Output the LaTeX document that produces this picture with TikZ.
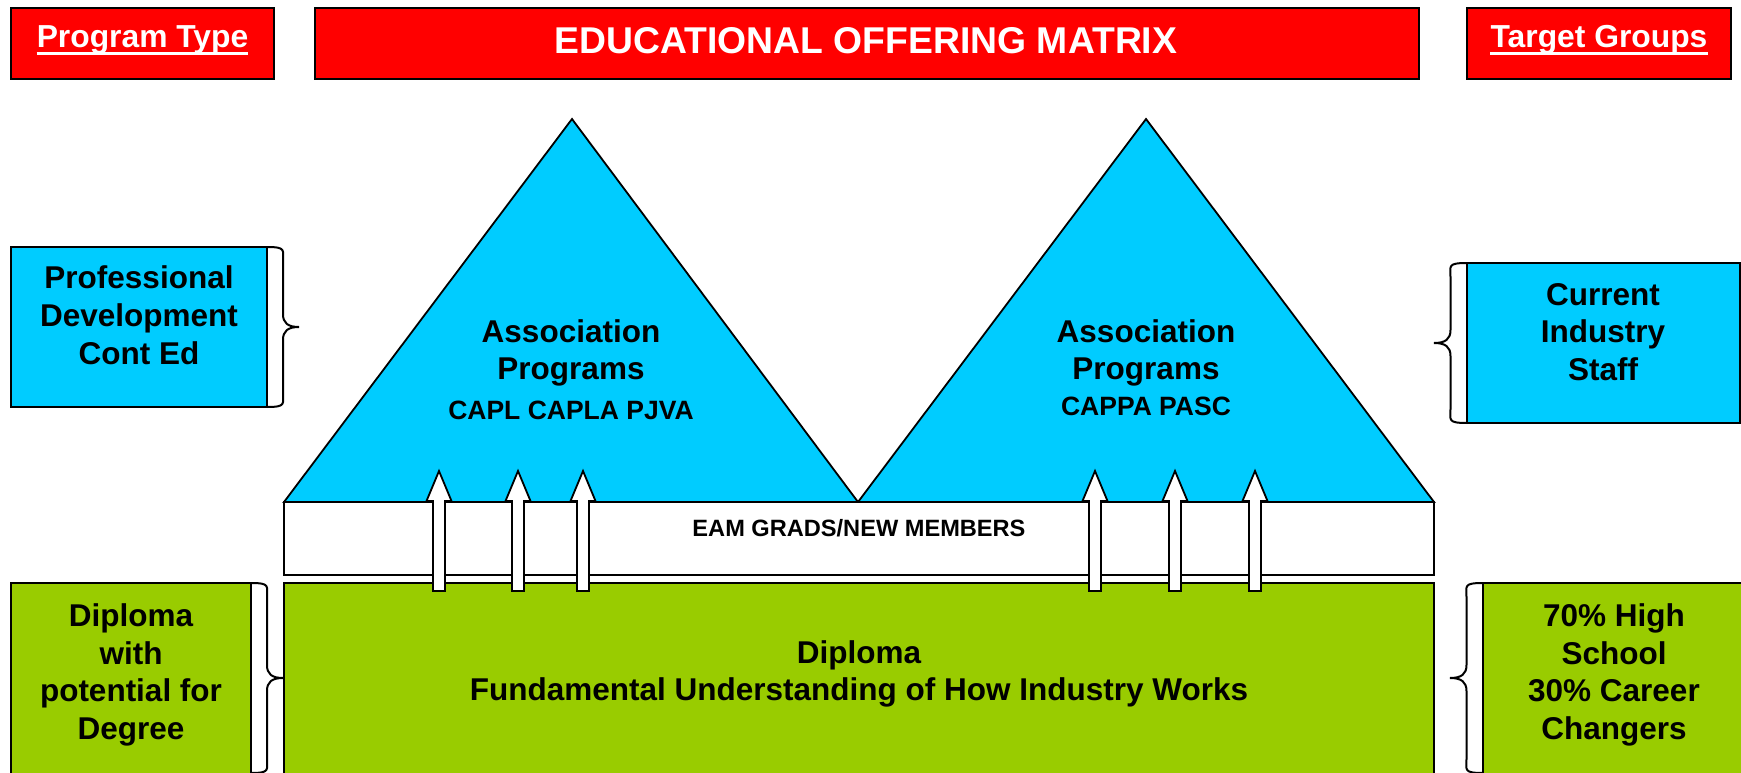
\documentclass[tikz,border=0pt]{standalone}
\usepackage{fontspec}
\setmainfont{Liberation Sans}
\usetikzlibrary{calc}
\definecolor{tred}{HTML}{FF0000}
\definecolor{tcyan}{HTML}{00CCFF}
\definecolor{tgreen}{HTML}{99CC00}
\newcommand\drawbrace[4]{% #1 end x, #2 tip x, #3 top y, #4 bottom y
  \draw[bracestyle] (#1,#3) .. controls ({#1+0.6*(#2-#1)},#3) and ({(#1+#2)/2},{#3+3}) .. ({(#1+#2)/2},{#3+14})
    -- ({(#1+#2)/2},{(#3+#4)/2-13}) .. controls ({(#1+#2)/2},{(#3+#4)/2-4}) and ({#1+0.65*(#2-#1)},{(#3+#4)/2}) .. (#2,{(#3+#4)/2})
    .. controls ({#1+0.65*(#2-#1)},{(#3+#4)/2}) and ({(#1+#2)/2},{(#3+#4)/2+4}) .. ({(#1+#2)/2},{(#3+#4)/2+13})
    -- ({(#1+#2)/2},{#4-14}) .. controls ({(#1+#2)/2},{#4-3}) and ({#1+0.6*(#2-#1)},#4) .. (#1,#4);}
\begin{document}
\begin{tikzpicture}[x=1pt,y=-1pt,
  box/.style={draw=black, line width=2pt, inner sep=0pt, outer sep=0pt},
  bigtxt/.style={font=\bfseries\fontsize{31.5}{37.8}\selectfont, align=center, inner sep=0pt},
  headtxt/.style={font=\bfseries\fontsize{31.8}{38}\selectfont, inner sep=0pt},
  titletxt/.style={font=\bfseries\fontsize{37.3}{44}\selectfont, inner sep=0pt},
  smalltxt/.style={font=\bfseries\fontsize{26.5}{32}\selectfont, inner sep=0pt},
  eamtxt/.style={font=\bfseries\fontsize{23.6}{28}\selectfont, inner sep=0pt},
  tri/.style={draw=black, line width=1.8pt, fill=tcyan, line join=miter},
  blockarrow/.style={draw=black, line width=1.8pt, fill=white, line join=miter},
  bracestyle/.style={draw=black, line width=2pt},
  uline/.style={draw=white, line width=3pt}]
\useasboundingbox (0,0) rectangle (1741,773);
\clip (0,0) rectangle (1741,773);
\fill[white] (0,0) rectangle (1741,773);

% header bars
\node[box, fill=tred, minimum width=263pt, minimum height=71pt] (ptbox) at (142.5,43.5) {};
\node[box, fill=tred, minimum width=1104pt, minimum height=71pt] (titlebox) at (867,43.5) {};
\node[box, fill=tred, minimum width=264pt, minimum height=71pt] (tgbox) at (1599,43.5) {};
\node[headtxt, text=white, anchor=base] (pttxt) at (142.5,48) {Program Type};
\node[titletxt, text=white, anchor=base] (ttl) at (866,54) {EDUCATIONAL OFFERING MATRIX};
\node[headtxt, text=white, anchor=base] (tgtxt) at (1599,48) {Target Groups};
\draw[uline] ($(pttxt.base west)+(0,5.5)$) -- ($(pttxt.base east)+(0,5.5)$);
\draw[uline] ($(tgtxt.base west)+(0,5.5)$) -- ($(tgtxt.base east)+(0,5.5)$);

% triangles
\coordinate (tl) at (284,502);
\coordinate (apexL) at (572,119);
\coordinate (tm) at (858,502);
\coordinate (apexR) at (1146,119);
\coordinate (tr) at (1434,502);
\path[tri] (tl) -- (apexL) -- (tm) -- cycle;
\path[tri] (tm) -- (apexR) -- (tr) -- cycle;

% side boxes
\node[box, fill=tcyan, minimum width=256pt, minimum height=160pt] (pdbox) at (139,327) {};
\node[box, fill=tcyan, minimum width=273pt, minimum height=160pt] (cisbox) at (1603.5,343) {};

% band and diploma boxes
\node[box, fill=white, minimum width=1150pt, minimum height=73pt] (band) at (859,538.5) {};
\node[box, fill=tgreen, minimum width=1150pt, minimum height=207pt] (dipmain) at (859,686.5) {};
\node[box, fill=tgreen, minimum width=240pt, minimum height=207pt] (dipbox) at (131,686.5) {};
\node[box, fill=tgreen, minimum width=277pt, minimum height=207pt] (hsbox) at (1621.5,686.5) {};

% braces
\drawbrace{267}{299}{247}{407}
\drawbrace{1467}{1434}{263}{423}
\drawbrace{251}{283}{583}{773}
\drawbrace{1483}{1450}{583}{773}

% block arrows
\foreach \ax in {439,518,583,1095,1175,1255}
  \path[blockarrow] (\ax-6,591) -- (\ax-6,501) -- (\ax-12.5,501) -- (\ax,471) -- (\ax+12.5,501) -- (\ax+6,501) -- (\ax+6,591) -- cycle;

% texts
\node[bigtxt] (pdtxt) at (139,315.5) {Professional\\Development\\Cont Ed};
\node[bigtxt] (cistxt) at (1603,332) {Current\\Industry\\Staff};
\node[bigtxt] (latxt) at (571,353) {Association\\Programs};
\node[smalltxt] (lacodes) at (571,410) {CAPL CAPLA PJVA};
\node[bigtxt] (ratxt) at (1146,353) {Association\\Programs};
\node[smalltxt] (racodes) at (1146,406) {CAPPA PASC};
\node[eamtxt] (eam) at (859,528) {EAM GRADS/NEW MEMBERS};
\node[bigtxt] (diptxt) at (859,674) {Diploma\\Fundamental Understanding of How Industry Works};
\node[bigtxt] (dltxt) at (131,675) {Diploma\\with\\potential for\\Degree};
\node[bigtxt] (hstxt) at (1614,675) {70\% High\\School\\30\% Career\\Changers};
\end{tikzpicture}
\end{document}
